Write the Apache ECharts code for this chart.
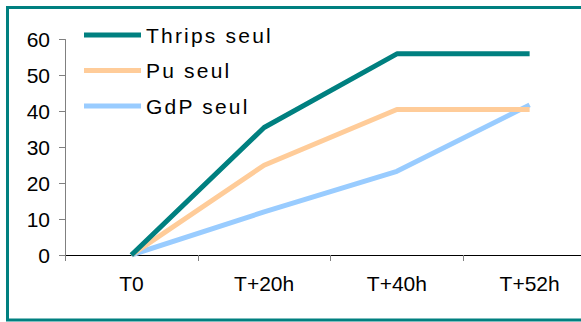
<!DOCTYPE html>
<html>
<head>
<meta charset="utf-8">
<script src="https://cdn.jsdelivr.net/npm/echarts@6/dist/echarts.min.js"></script>
<style>
  html, body { margin: 0; padding: 0; background: #fff; overflow: hidden; width: 581px; height: 322px; }
  /* plot runs past the right edge of the page, so the last category is cut off */
  #chart { width: 596px; height: 322px; }
</style>
</head>
<body>
<div id="chart"></div>
<script>
// Time points and infestation values per treatment
const categories = ['T0', 'T+20h', 'T+40h', 'T+52h'];
const thripsSeul = [0, 35.5, 56, 56];
const puSeul = [0, 25, 40.5, 40.5];
const gdpSeul = [0, 12, 23.3, 41.8];
const seriesNames = ['Thrips seul', 'Pu seul', 'GdP seul'];
const seriesColors = ['#008080', '#FFCC99', '#99CCFF'];
const yTicks = { min: 0, max: 60, interval: 10 };

const chartEl = document.getElementById('chart');
const chart = echarts.init(chartEl, null, { renderer: 'svg' });
const font = 'Liberation Sans, Arial, sans-serif';

const values = [thripsSeul, puSeul, gdpSeul];

chart.setOption({
  animation: false,
  backgroundColor: '#fff',
  graphic: [{
    type: 'rect',
    shape: { x: 7.5, y: 7.5, width: 700, height: 312.5 },
    style: { fill: 'none', stroke: '#008080', lineWidth: 3 },
    z: 100
  }],
  legend: {
    orient: 'vertical',
    left: 79,
    top: 19,
    itemWidth: 57,
    itemHeight: 5,
    itemGap: 13.5,
    icon: 'rect',
    textStyle: { fontFamily: font, fontSize: 21, color: '#000', lineHeight: 22 },
    data: seriesNames
  },
  grid: { left: 65, top: 39.5, right: 0, bottom: 67 },
  xAxis: {
    type: 'category',
    data: categories,
    boundaryGap: true,
    axisLine: { lineStyle: { color: '#000', width: 1 } },
    axisTick: { show: true, length: 6, lineStyle: { color: '#808080' } },
    axisLabel: { fontFamily: font, fontSize: 21, color: '#000', margin: 18 }
  },
  yAxis: {
    type: 'value',
    min: yTicks.min,
    max: yTicks.max,
    interval: yTicks.interval,
    splitLine: { show: false },
    axisLine: { show: true, lineStyle: { color: '#808080', width: 1 } },
    axisTick: { show: true, length: 6, lineStyle: { color: '#808080' } },
    axisLabel: { fontFamily: font, fontSize: 21, color: '#000', margin: 15 }
  },
  series: seriesNames.map((name, i) => ({
    name,
    type: 'line',
    data: values[i],
    symbol: 'none',
    color: seriesColors[i],
    lineStyle: { width: 5, color: seriesColors[i] },
    z: 10 - i
  }))
});

// Legend entries are set with expanded character spacing
function spaceLegendText() {
  chartEl.querySelectorAll('text').forEach(t => {
    if (seriesNames.includes(t.textContent)) {
      t.setAttribute('letter-spacing', '2.2');
    }
  });
}
spaceLegendText();
chart.on('finished', spaceLegendText);
</script>
</body>
</html>
